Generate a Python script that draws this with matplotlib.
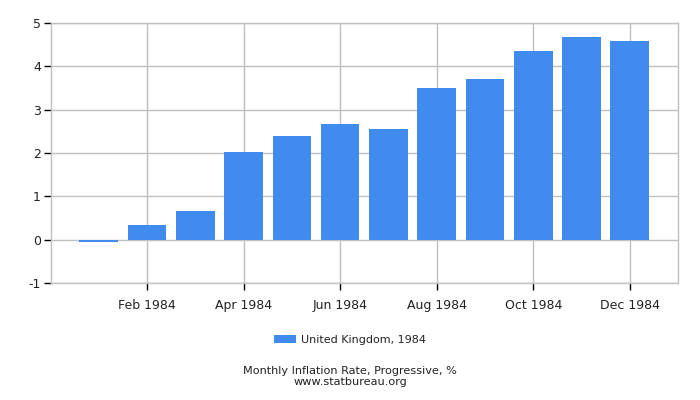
import numpy as np
import matplotlib
matplotlib.use("Agg")
import matplotlib.pyplot as plt

plt.rcParams['axes.unicode_minus'] = False

months = ['Jan 1984', 'Feb 1984', 'Mar 1984', 'Apr 1984', 'May 1984', 'Jun 1984',
          'Jul 1984', 'Aug 1984', 'Sep 1984', 'Oct 1984', 'Nov 1984', 'Dec 1984']
values = [-0.04, 0.34, 0.67, 2.02, 2.39, 2.66, 2.55, 3.49, 3.70, 4.34, 4.66, 4.57]
series_label = 'United Kingdom, 1984'
yticks = [-1, 0, 1, 2, 3, 4, 5]

bar_color = '#418BEF'
grid_color = '#C0C0C0'
text_color = '#222222'

fig = plt.figure(figsize=(7, 4), dpi=100)
ax = fig.add_axes([50.5 / 700, 1 - 283.3 / 400, (678 - 50.5) / 700, (283.3 - 22.7) / 400])

x = np.arange(1, len(values) + 1)
bars = ax.bar(x, values, width=0.8, color=bar_color, label=series_label, zorder=3)

ax.set_xlim(0, 13)
ax.set_ylim(-1, 5)
ax.set_yticks(yticks)
ax.set_xticks(x[1::2])
ax.set_xticklabels(months[1::2])

ax.grid(True, color=grid_color, linewidth=1, zorder=0)
for s in ax.spines.values():
    s.set_color(grid_color)
    s.set_linewidth(1)
ax.tick_params(axis='both', colors='black', length=5, width=1, labelsize=9,
               labelcolor=text_color)
ax.tick_params(axis='x', pad=6)
ax.tick_params(axis='y', pad=2)

fig.legend(handles=[bars], labels=[series_label], loc='center',
           bbox_to_anchor=(0.5, 1 - 340 / 400), frameon=False, fontsize=8,
           handlelength=2.0, handleheight=0.8, handletextpad=0.4,
           labelcolor=text_color)

fig.text(0.5, 1 - 370.5 / 400, 'Monthly Inflation Rate, Progressive, %', ha='center',
         va='center', fontsize=8.1, color=text_color)
fig.text(0.5, 1 - 382 / 400, 'www.statbureau.org', ha='center', va='center',
         fontsize=8.1, color=text_color)

fig.savefig('out.png', dpi=100)
